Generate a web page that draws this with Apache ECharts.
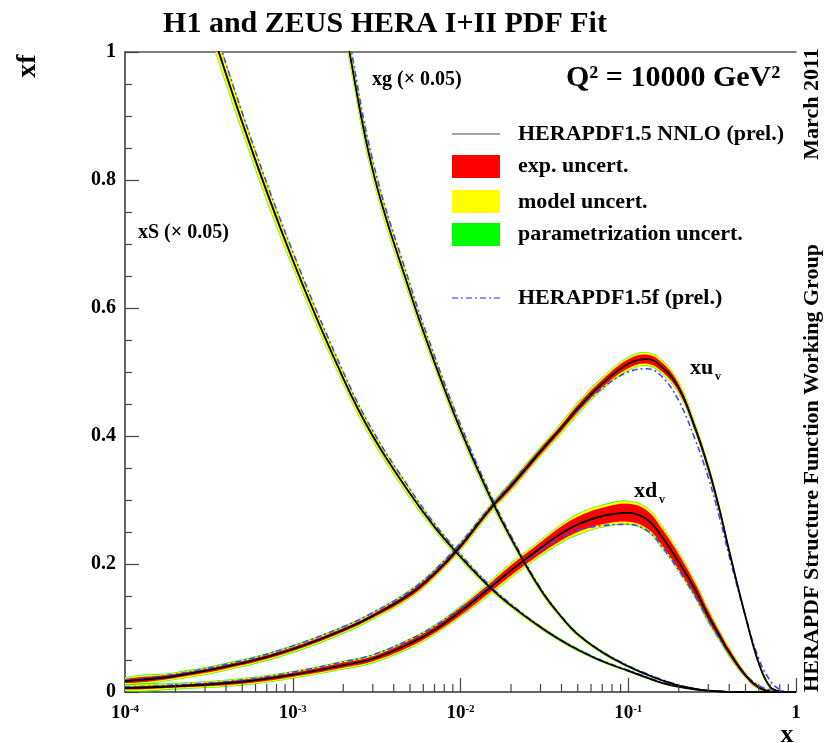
<!DOCTYPE html>
<html>
<head>
<meta charset="utf-8">
<script src="https://cdn.jsdelivr.net/npm/echarts@6/dist/echarts.min.js"></script>
<style>
  html, body { margin: 0; background: #fff; }
  #chart { width: 826px; height: 743px; }
</style>
</head>
<body>
<div id="chart"></div>
<script>
// x grid shared by all curves (Q^2 = 10000 GeV^2)
const xGrid = [1e-4, 2e-4, 5e-4, 1e-3, 2e-3, 3e-3, 5e-3, 7e-3, 0.01, 0.015, 0.02, 0.03, 0.04, 0.05, 0.07,
               0.1, 0.13, 0.16, 0.2, 0.25, 0.3, 0.35, 0.4, 0.5, 0.6, 0.7, 0.8, 0.9, 1.0];

// HERAPDF1.5 NNLO central values
const xuv = [0.017, 0.025, 0.045, 0.067, 0.097, 0.119, 0.153, 0.185, 0.228, 0.286, 0.322, 0.376, 0.413, 0.443, 0.482,
             0.513, 0.520, 0.507, 0.475, 0.413, 0.350, 0.285, 0.220, 0.118, 0.045, 0.008, 0.001, 0, 0];
const xdv = [0.006, 0.009, 0.016, 0.027, 0.042, 0.052, 0.076, 0.097, 0.126, 0.163, 0.190, 0.225, 0.248, 0.262, 0.275,
             0.280, 0.269, 0.241, 0.203, 0.160, 0.119, 0.088, 0.062, 0.026, 0.007, 0.001, 0, 0, 0];
const xS  = [1.45, 1.21, 0.89, 0.675, 0.49, 0.40, 0.31, 0.258, 0.211, 0.163, 0.135, 0.101, 0.080, 0.066, 0.048,
             0.033, 0.022, 0.014, 0.008, 0.004, 0.002, 0.001, 0, 0, 0, 0, 0, 0, 0];
const xg  = [2.9, 2.4, 1.85, 1.42, 1.05, 0.815, 0.625, 0.515, 0.41, 0.305, 0.24, 0.16, 0.117, 0.090, 0.062,
             0.040, 0.027, 0.018, 0.010, 0.005, 0.002, 0.001, 0, 0, 0, 0, 0, 0, 0];

// HERAPDF1.5f (dash-dot)
const xuvF = [0.019, 0.028, 0.049, 0.072, 0.102, 0.124, 0.158, 0.190, 0.233, 0.289, 0.326, 0.378, 0.413, 0.440, 0.475,
              0.500, 0.505, 0.492, 0.455, 0.395, 0.335, 0.273, 0.212, 0.118, 0.052, 0.018, 0.004, 0, 0];
const xdvF = [0.008, 0.011, 0.019, 0.031, 0.047, 0.058, 0.082, 0.103, 0.131, 0.166, 0.190, 0.222, 0.242, 0.253, 0.260,
              0.262, 0.252, 0.226, 0.190, 0.150, 0.112, 0.083, 0.060, 0.027, 0.010, 0.003, 0, 0, 0];
const xSF  = [1.47, 1.23, 0.905, 0.688, 0.50, 0.408, 0.317, 0.263, 0.215, 0.166, 0.137, 0.102, 0.081, 0.067, 0.049,
              0.034, 0.023, 0.015, 0.009, 0.004, 0.002, 0.001, 0, 0, 0, 0, 0, 0, 0];
const xgF  = [2.95, 2.45, 1.88, 1.44, 1.07, 0.83, 0.637, 0.525, 0.418, 0.31, 0.244, 0.162, 0.118, 0.091, 0.063,
              0.041, 0.028, 0.019, 0.011, 0.005, 0.002, 0.001, 0, 0, 0, 0, 0, 0, 0];

// uncertainty half-widths: experimental, model, parametrisation
const xuvExp = [0.003, 0.003, 0.003, 0.003, 0.003, 0.003, 0.004, 0.004, 0.004, 0.004, 0.005, 0.005, 0.005, 0.006, 0.006,
                0.007, 0.007, 0.007, 0.006, 0.005, 0.005, 0.004, 0.003, 0.002, 0.002, 0.001, 0, 0, 0];
const xuvMod = [0.002, 0.002, 0.002, 0.002, 0.002, 0.002, 0.002, 0.002, 0.002, 0.002, 0.002, 0.002, 0.003, 0.003, 0.003,
                0.003, 0.003, 0.003, 0.003, 0.002, 0.002, 0.002, 0.002, 0.001, 0.001, 0.001, 0, 0, 0];
const xuvPar = [0.001, 0.001, 0.001, 0.001, 0.001, 0.001, 0.001, 0.001, 0.001, 0.001, 0.001, 0.001, 0.001, 0.001, 0.001,
                0.001, 0.001, 0.001, 0.001, 0.001, 0.001, 0.001, 0.001, 0.0005, 0.0005, 0, 0, 0, 0];

const xdvExp = [0.002, 0.002, 0.003, 0.003, 0.004, 0.004, 0.005, 0.005, 0.006, 0.007, 0.008, 0.009, 0.011, 0.012, 0.013,
                0.014, 0.014, 0.013, 0.012, 0.010, 0.008, 0.006, 0.005, 0.003, 0.002, 0.001, 0, 0, 0];
const xdvMod = [0.002, 0.002, 0.002, 0.002, 0.002, 0.002, 0.002, 0.002, 0.002, 0.003, 0.003, 0.003, 0.003, 0.004, 0.004,
                0.004, 0.004, 0.004, 0.003, 0.003, 0.003, 0.002, 0.002, 0.001, 0.001, 0.001, 0, 0, 0];
const xdvPar = [0.001, 0.001, 0.001, 0.001, 0.001, 0.001, 0.001, 0.001, 0.001, 0.001, 0.001, 0.001, 0.001, 0.001, 0.001,
                0.001, 0.001, 0.001, 0.001, 0.001, 0.001, 0.001, 0.001, 0.0005, 0.0005, 0, 0, 0, 0];

const xSExp = [0.005, 0.004, 0.003, 0.0025, 0.002, 0.0018, 0.0015, 0.0012, 0.001, 0.0009, 0.0008, 0.0006, 0.0005, 0.0004, 0.0004,
               0.0003, 0.0002, 0.0002, 0.0001, 0, 0, 0, 0, 0, 0, 0, 0, 0, 0];
const xSMod = [0.018, 0.015, 0.011, 0.009, 0.007, 0.006, 0.005, 0.004, 0.0035, 0.003, 0.0025, 0.002, 0.0018, 0.0016, 0.0014,
               0.0012, 0.001, 0.0008, 0.0005, 0.0003, 0.0001, 0, 0, 0, 0, 0, 0, 0, 0];
const xSPar = [0.003, 0.0025, 0.002, 0.0015, 0.0012, 0.001, 0.001, 0.0008, 0.0008, 0.0006, 0.0005, 0.0004, 0.0004, 0.0003, 0.0003,
               0.0002, 0.0002, 0.0001, 0.0001, 0, 0, 0, 0, 0, 0, 0, 0, 0, 0];

const xgExp = [0.010, 0.008, 0.006, 0.005, 0.004, 0.003, 0.0025, 0.002, 0.0018, 0.0015, 0.0012, 0.001, 0.0008, 0.0007, 0.0006,
               0.0005, 0.0004, 0.0003, 0.0002, 0.0001, 0, 0, 0, 0, 0, 0, 0, 0, 0];
const xgMod = [0.035, 0.030, 0.022, 0.017, 0.013, 0.010, 0.008, 0.007, 0.006, 0.005, 0.004, 0.003, 0.0025, 0.002, 0.0016,
               0.0012, 0.001, 0.0008, 0.0005, 0.0002, 0, 0, 0, 0, 0, 0, 0, 0, 0];
const xgPar = [0.006, 0.005, 0.004, 0.003, 0.002, 0.0015, 0.0012, 0.001, 0.001, 0.0008, 0.0006, 0.0005, 0.0004, 0.0003, 0.0003,
               0.0002, 0.0002, 0.0001, 0.0001, 0, 0, 0, 0, 0, 0, 0, 0, 0, 0];

const xTickLabels = { '-4': '{b|10}{s|-4}', '-3': '{b|10}{s|-3}', '-2': '{b|10}{s|-2}', '-1': '{b|10}{s|-1}', '0': '{b|1}' };
const minorTickX = [];
[1e-4, 1e-3, 1e-2, 1e-1].forEach(d => { for (let k = 2; k <= 9; k++) minorTickX.push(d * k); });

const FONT = '"Liberation Serif", "Times New Roman", serif';
const SMOOTH = 0.4;

function pairs(vals) {
    return xGrid.map((x, i) => [x, vals[i]]);
}

// three nested bands (green outside, yellow, red in the middle), one polygon each
function bands(centre, exp, mod, par) {
    const layers = [
        ['#00ff00', i => exp[i] + mod[i] + par[i]],
        ['#ffff00', i => exp[i] + mod[i]],
        ['#ff0000', i => exp[i]]
    ];
    return {
        type: 'custom', coordinateSystem: 'cartesian2d', silent: true, z: 2, clip: true,
        data: [[xGrid[0], 0]],
        renderItem: (params, api) => {
            const children = layers.map(([color, half]) => {
                const upper = xGrid.map((x, i) => api.coord([x, centre[i] + half(i)]));
                const lower = xGrid.map((x, i) => api.coord([x, Math.max(0, centre[i] - half(i))])).reverse();
                return {
                    type: 'polygon',
                    shape: { points: upper.concat(lower), smooth: SMOOTH },
                    style: { fill: color }
                };
            });
            return { type: 'group', children };
        }
    };
}

function centreLine(name, vals) {
    return {
        name, type: 'line', data: pairs(vals), symbol: 'none', smooth: SMOOTH, silent: true, z: 5,
        lineStyle: { color: '#000', width: 1.8 }
    };
}

function fLine(name, vals) {
    return {
        name, type: 'line', data: pairs(vals), symbol: 'none', smooth: SMOOTH, silent: true, z: 4,
        lineStyle: { color: '#4646ff', width: 1.6, type: [6, 3, 2, 3] }
    };
}

function txt(text, x, y, size, opts) {
    opts = opts || {};
    return {
        type: 'text', x, y, rotation: opts.rot || 0, z: 100,
        style: {
            text, fill: '#000',
            font: (opts.weight || 'bold') + ' ' + size + 'px ' + FONT,
            align: opts.align || 'left', textAlign: opts.align || 'left',
            verticalAlign: 'middle', textVerticalAlign: 'middle'
        }
    };
}

const chart = echarts.init(document.getElementById('chart'));
chart.setOption({
    animation: false,
    backgroundColor: '#fff',
    grid: { left: 125, right: 30, top: 52, bottom: 51 },
    xAxis: [{
        type: 'log', logBase: 10, min: 1e-4, max: 1,
        axisLine: { lineStyle: { color: '#333', width: 1.5 } },
        axisTick: { inside: true, length: 14, lineStyle: { color: '#444', width: 1.2 } },
        minorTick: { show: false },
        splitLine: { show: false },
        axisLabel: {
            margin: 12, color: '#000',
            formatter: v => xTickLabels[String(Math.round(Math.log10(v)))],
            rich: {
                b: { fontFamily: FONT, fontWeight: 'bold', fontSize: 19, color: '#000' },
                s: { fontFamily: FONT, fontWeight: 'bold', fontSize: 11, color: '#000', verticalAlign: 'top', padding: [0, 0, 8, 0] }
            }
        }
    }, {
        type: 'log', logBase: 10, min: 1e-4, max: 1, position: 'top',
        axisLine: { lineStyle: { color: '#555', width: 1.5 } },
        axisTick: { show: false }, axisLabel: { show: false }, splitLine: { show: false }
    }],
    yAxis: {
        type: 'value', min: 0, max: 1, interval: 0.2,
        axisLine: { show: true, lineStyle: { color: '#333', width: 1.5 } },
        axisTick: { show: true, inside: true, length: 14, lineStyle: { color: '#444', width: 1.2 } },
        minorTick: { show: true, splitNumber: 4, length: 7, lineStyle: { color: '#444', width: 1.2 } },
        splitLine: { show: false },
        axisLabel: { margin: 9, color: '#000', fontFamily: FONT, fontWeight: 'bold', fontSize: 20 }
    },
    series: [
        bands(xg, xgExp, xgMod, xgPar),
        bands(xS, xSExp, xSMod, xSPar),
        bands(xuv, xuvExp, xuvMod, xuvPar),
        bands(xdv, xdvExp, xdvMod, xdvPar),
        fLine('xg f', xgF), fLine('xS f', xSF), fLine('xuv f', xuvF), fLine('xdv f', xdvF),
        centreLine('xg', xg), centreLine('xS', xS), centreLine('xuv', xuv), centreLine('xdv', xdv),
        {
            type: 'custom', coordinateSystem: 'cartesian2d', silent: true, z: 6,
            data: minorTickX.map(x => [x, 0]),
            renderItem: (params, api) => {
                const p = api.coord([api.value(0), 0]);
                return {
                    type: 'line',
                    shape: { x1: p[0], y1: p[1], x2: p[0], y2: p[1] - 8 },
                    style: { stroke: '#444', lineWidth: 1.2 }
                };
            }
        }
    ],
    graphic: [
        txt('H1 and ZEUS HERA I+II PDF Fit', 385, 24, 30, { align: 'center' }),
        txt('Q² = 10000 GeV²', 566, 78, 30),
        txt('xf', 28, 66, 28, { align: 'center', rot: Math.PI / 2 }),
        txt('x', 787, 735, 26, { align: 'center' }),
        txt('xg (× 0.05)', 372, 80, 20),
        txt('xS (× 0.05)', 138, 233, 20),
        txt('xu', 690, 368, 22), txt('v', 715, 377, 12),
        txt('xd', 634, 491, 22), txt('v', 659, 500, 12),
        txt('March 2011', 812, 104, 22, { align: 'center', rot: Math.PI / 2 }),
        txt('HERAPDF Structure Function Working Group', 812, 468, 22, { align: 'center', rot: Math.PI / 2 }),
        // legend
        { type: 'line', z: 100, shape: { x1: 452, y1: 134, x2: 500, y2: 134 }, style: { stroke: '#888', lineWidth: 1.5 } },
        { type: 'rect', z: 100, shape: { x: 452, y: 155, width: 48, height: 23 }, style: { fill: '#ff0000' } },
        { type: 'rect', z: 100, shape: { x: 452, y: 190, width: 48, height: 23 }, style: { fill: '#ffff00' } },
        { type: 'rect', z: 100, shape: { x: 452, y: 223, width: 48, height: 23 }, style: { fill: '#00ff00' } },
        { type: 'line', z: 100, shape: { x1: 452, y1: 298, x2: 500, y2: 298 }, style: { stroke: '#7070ff', lineWidth: 1.5, lineDash: [6, 3, 2, 3] } },
        txt('HERAPDF1.5 NNLO (prel.)', 518, 134, 22),
        txt('exp. uncert.', 518, 166, 22),
        txt('model uncert.', 518, 202, 22),
        txt('parametrization uncert.', 518, 234, 22),
        txt('HERAPDF1.5f (prel.)', 518, 298, 22)
    ]
});
</script>
</body>
</html>
